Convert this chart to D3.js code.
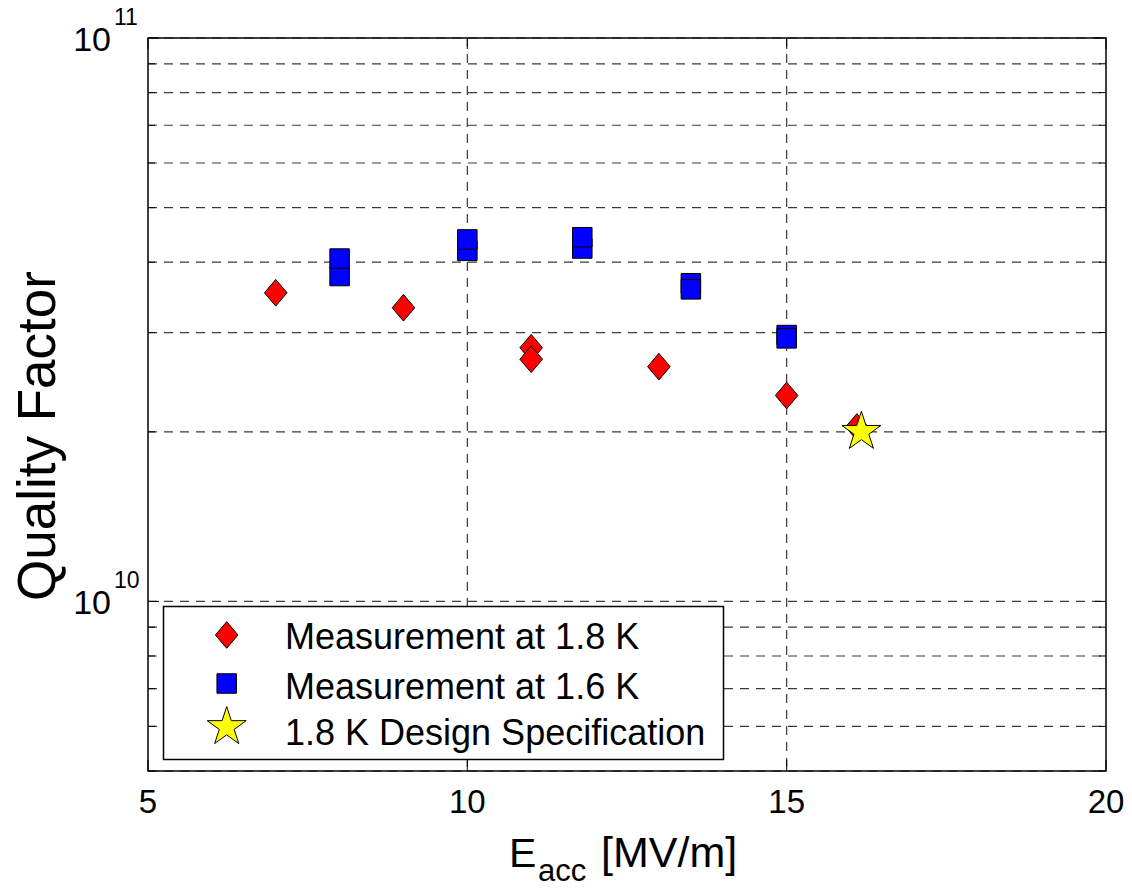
<!DOCTYPE html>
<html>
<head>
<meta charset="utf-8">
<script src="https://d3js.org/d3.v7.min.js"></script>
<style>
  html, body { margin: 0; padding: 0; background: #fff; }
  svg { display: block; font-family: "Liberation Sans", Arial, Helvetica, sans-serif; }
</style>
</head>
<body>
<svg id="chart" width="1132" height="889"></svg>
<script>
// Accelerating field (MV/m) and quality factor, measured at 1.8 K
const field18 = [7, 9, 11, 11, 13, 15, 16.1];
const q18 = [3.53e10, 3.32e10, 2.82e10, 2.69e10, 2.61e10, 2.32e10, 2.04e10];

// Measured at 1.6 K
const field16 = [8, 8, 10, 10, 11.8, 11.8, 13.5, 13.5, 15, 15];
const q16 = [3.78e10, 4.06e10, 4.19e10, 4.39e10, 4.23e10, 4.43e10, 3.67e10, 3.58e10, 2.97e10, 2.93e10];

// Design specification at 1.8 K
const fieldSpec = [16.17];
const qSpec = [2.0e10];

const xTicks = [5, 10, 15, 20];
const yMajorTicks = [1e10, 1e11];
const yMinorTicks = [5e9, 6e9, 7e9, 8e9, 9e9, 2e10, 3e10, 4e10, 5e10, 6e10, 7e10, 8e10, 9e10];

const legendLabels = ["Measurement at 1.8 K", "Measurement at 1.6 K", "1.8 K Design Specification"];

const svg = d3.select("#chart");
const L = 148, R = 1106, T = 38, B = 771;

const x = d3.scaleLinear().domain([5, 20]).range([L, R]);
const y = d3.scaleLog().domain([5e9, 1e11]).range([B, T]);

// Marker shapes
function diamondPath(hw, hh) {
  return `M0,${-hh}L${hw},0L0,${hh}L${-hw},0Z`;
}
function squarePath(s) {
  const h = s / 2;
  return `M${-h},${-h}H${h}V${h}H${-h}Z`;
}
function starPath(ro) {
  const ri = ro * 0.382;
  const pts = [];
  for (let i = 0; i < 10; i++) {
    const r = i % 2 === 0 ? ro : ri;
    const a = -Math.PI / 2 + i * Math.PI / 5;
    pts.push([r * Math.cos(a), r * Math.sin(a)]);
  }
  return "M" + pts.map(p => p[0].toFixed(2) + "," + p[1].toFixed(2)).join("L") + "Z";
}
const DIAMOND = diamondPath(11.3, 13.3);
const SQUARE = squarePath(19.5);
const STAR = starPath(20.5);

// Grid
const grid = svg.append("g")
  .attr("stroke", "#3a3a3a")
  .attr("stroke-width", 1.2)
  .attr("stroke-dasharray", "9,7");

grid.selectAll("line.gy")
  .data(yMinorTicks.concat(yMajorTicks))
  .join("line")
  .attr("class", "gy")
  .attr("x1", L).attr("x2", R)
  .attr("y1", d => y(d)).attr("y2", d => y(d));

grid.selectAll("line.gx")
  .data(xTicks.slice(1, -1))
  .join("line")
  .attr("class", "gx")
  .attr("x1", d => x(d)).attr("x2", d => x(d))
  .attr("y1", T).attr("y2", B);

// Data points
const pts = svg.append("g").attr("stroke", "#000").attr("stroke-width", 1);

pts.selectAll("path.m18")
  .data(field18.map((f, i) => [f, q18[i]]))
  .join("path")
  .attr("class", "m18")
  .attr("d", DIAMOND)
  .attr("fill", "#ff0000")
  .attr("transform", d => `translate(${x(d[0])},${y(d[1])})`);

pts.selectAll("path.m16")
  .data(field16.map((f, i) => [f, q16[i]]))
  .join("path")
  .attr("class", "m16")
  .attr("d", SQUARE)
  .attr("fill", "#0000ff")
  .attr("transform", d => `translate(${x(d[0])},${y(d[1])})`);

pts.selectAll("path.spec")
  .data(fieldSpec.map((f, i) => [f, qSpec[i]]))
  .join("path")
  .attr("class", "spec")
  .attr("d", STAR)
  .attr("fill", "#ffff00")
  .attr("transform", d => `translate(${x(d[0])},${y(d[1])})`);

// Axes box and ticks
const axes = svg.append("g").attr("stroke", "#000").attr("fill", "none");
axes.append("rect")
  .attr("x", L).attr("y", T).attr("width", R - L).attr("height", B - T)
  .attr("stroke-width", 1.5);

const minorLen = 7, majorLen = 11;
yMinorTicks.forEach(v => {
  axes.append("line").attr("x1", L).attr("x2", L + minorLen).attr("y1", y(v)).attr("y2", y(v));
  axes.append("line").attr("x1", R).attr("x2", R - minorLen).attr("y1", y(v)).attr("y2", y(v));
});
yMajorTicks.forEach(v => {
  axes.append("line").attr("x1", L).attr("x2", L + majorLen).attr("y1", y(v)).attr("y2", y(v));
  axes.append("line").attr("x1", R).attr("x2", R - majorLen).attr("y1", y(v)).attr("y2", y(v));
});
xTicks.forEach(v => {
  axes.append("line").attr("x1", x(v)).attr("x2", x(v)).attr("y1", B).attr("y2", B - majorLen);
  axes.append("line").attr("x1", x(v)).attr("x2", x(v)).attr("y1", T).attr("y2", T + majorLen);
});

// Tick labels
const xl = svg.append("g").attr("font-size", 33).attr("fill", "#000").attr("text-anchor", "middle");
xl.selectAll("text")
  .data(xTicks)
  .join("text")
  .attr("x", d => x(d))
  .attr("y", B + 42)
  .text(d => d);

const yl = svg.append("g").attr("fill", "#000");
yMajorTicks.forEach(v => {
  const exp = Math.round(Math.log10(v));
  yl.append("text").attr("x", 111).attr("y", y(v) + 13).attr("font-size", 34)
    .attr("text-anchor", "end").text("10");
  yl.append("text").attr("x", 114).attr("y", y(v) - 13).attr("font-size", 23)
    .attr("text-anchor", "start").text(exp);
});

// Axis titles
const xt = svg.append("text").attr("fill", "#000").attr("y", 867);
xt.append("tspan").attr("x", 509).attr("font-size", 41).text("E");
xt.append("tspan").attr("x", 538).attr("y", 881).attr("font-size", 31).text("acc");
xt.append("tspan").attr("x", 601).attr("y", 867).attr("font-size", 43).text("[MV/m]");

svg.append("text")
  .attr("transform", "translate(55,436) rotate(-90)")
  .attr("text-anchor", "middle")
  .attr("font-size", 53)
  .attr("fill", "#000")
  .text("Quality Factor");

// Legend
const lg = svg.append("g");
lg.append("rect")
  .attr("x", 163.5).attr("y", 606.5).attr("width", 560).attr("height", 153)
  .attr("fill", "#fff").attr("stroke", "#000").attr("stroke-width", 1.5);

const legendShapes = [
  { d: DIAMOND, fill: "#ff0000" },
  { d: SQUARE, fill: "#0000ff" },
  { d: STAR, fill: "#ffff00" }
];
const legendRowY = [635, 683.5, 727];
const legendBase = [648.5, 698.5, 745];
legendLabels.forEach((lab, i) => {
  lg.append("path")
    .attr("d", legendShapes[i].d)
    .attr("fill", legendShapes[i].fill)
    .attr("stroke", "#000").attr("stroke-width", 1)
    .attr("transform", `translate(226.7,${legendRowY[i]})`);
  lg.append("text")
    .attr("x", 285).attr("y", legendBase[i])
    .attr("font-size", 36).attr("fill", "#000")
    .text(lab);
});
</script>
</body>
</html>
